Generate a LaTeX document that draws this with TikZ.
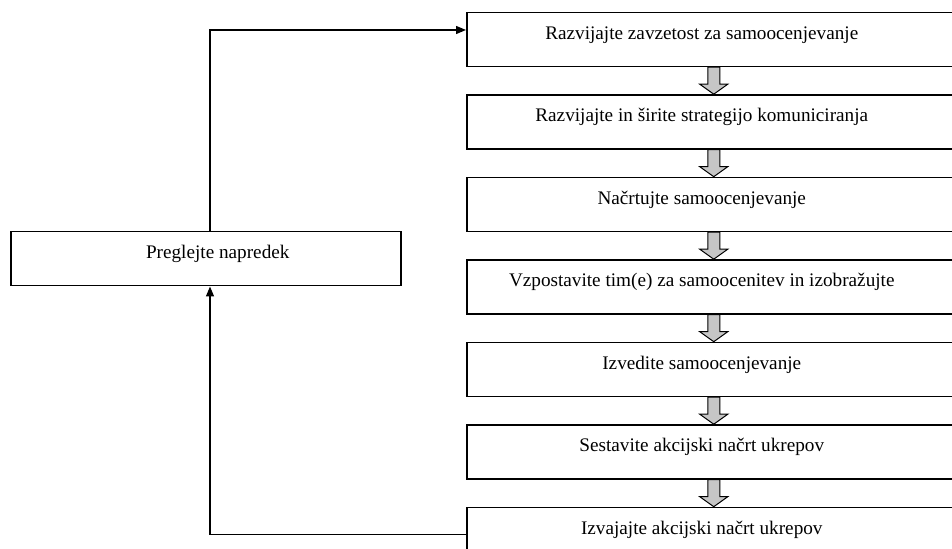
\documentclass[tikz,border=0pt]{standalone}
\usepackage{fontspec}
\setmainfont{Liberation Serif}
\usetikzlibrary{arrows.meta}
\usetikzlibrary{positioning}

\begin{document}
\begin{tikzpicture}[x=0.5pt, y=-0.5pt,
  stepbox/.style={draw, line width=0.75pt, minimum width=247pt, minimum height=27pt,
    inner sep=0pt, text height=8pt, text depth=8pt, font=\fontsize{9.6}{11}\selectfont,
    execute at end node={\hspace*{12pt}}},
  reviewbox/.style={draw, line width=0.75pt, minimum width=195pt, minimum height=27pt,
    inner sep=0pt, text height=8pt, text depth=8pt, font=\fontsize{9.6}{11}\selectfont,
    execute at begin node={\hspace*{12pt}}},
  conn/.style={line width=0.65pt, -{Triangle[length=5pt, width=4pt]}},
  garrow/.style={draw, line width=0.5pt, fill=gray!45}]
\useasboundingbox (0,0) rectangle (952,549);
\clip (0,0) rectangle (952,549);
% steps
\node[stepbox, anchor=north west] (b1) at (466,11.7) {Razvijajte zavzetost za samoocenjevanje};
\node[stepbox, below=13.5pt of b1] (b2) {Razvijajte in širite strategijo komuniciranja};
\node[stepbox, below=13.5pt of b2] (b3) {Načrtujte samoocenjevanje};
\node[stepbox, below=13.5pt of b3] (b4) {Vzpostavite tim(e) za samoocenitev in izobražujte};
\node[stepbox, below=13.5pt of b4] (b5) {Izvedite samoocenjevanje};
\node[stepbox, below=13.5pt of b5] (b6) {Sestavite akcijski načrt ukrepov};
\node[stepbox, below=13.5pt of b6] (b7) {Izvajajte akcijski načrt ukrepov};
% review
\node[reviewbox, anchor=north west] (review) at (10,231) {Preglejte napredek};
% gray arrows between steps
\foreach \i/\j in {b1/b2, b2/b3, b3/b4, b4/b5, b5/b6, b6/b7}
  \draw[garrow] ([xshift=-3pt]\i.south) -- ([xshift=-3pt, yshift=5pt]\j.north)
    -- ([xshift=-7pt, yshift=5pt]\j.north) -- (\j.north)
    -- ([xshift=7pt, yshift=5pt]\j.north) -- ([xshift=3pt, yshift=5pt]\j.north)
    -- ([xshift=3pt]\i.south) -- cycle;
% feedback loop
\coordinate (loop) at (210,30);
\draw[conn] (review.north -| loop) |- (b1.west |- loop);
\draw[conn] (b7.west) -| (review.south -| loop);
\end{tikzpicture}
\end{document}
